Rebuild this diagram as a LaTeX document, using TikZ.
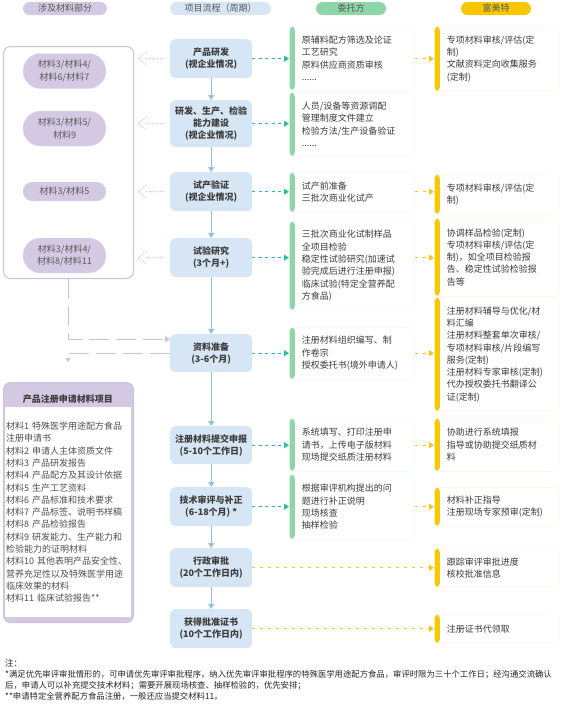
\documentclass[tikz,border=0pt]{standalone}
\usepackage{fontspec}
\setmainfont{Noto Sans CJK SC}
\usetikzlibrary{arrows.meta,shapes.misc}
\definecolor{lilac}{HTML}{D4C9E3}
\definecolor{lilacline}{HTML}{CDC1DF}
\definecolor{stepblue}{HTML}{D7E6F4}
\definecolor{mint}{HTML}{8ED5A7}
\definecolor{gold}{HTML}{F8C700}
\definecolor{tealdash}{HTML}{2DBE9E}
\definecolor{golddash}{HTML}{F7C51A}
\definecolor{flowline}{HTML}{8FC4D8}
\definecolor{ink}{HTML}{3C3C3C}
\begin{document}
\begin{tikzpicture}[x=1pt,y=-1pt,
  every node/.style={text=ink},
  body/.style={font=\fontsize{9}{12.3}\selectfont},
  pill/.style={rounded corners=6.5,minimum height=13,inner sep=0,font=\fontsize{9}{10}\selectfont,text=ink!85},
  matpill/.style={rounded rectangle,fill=lilac,draw=lilacline!60,line width=0.4,minimum width=83,inner sep=0,align=center,body,text=ink!85},
  stepbox/.style={anchor=north west,fill=stepblue,rounded corners=5,minimum width=82,inner sep=0,align=center,font=\bfseries\fontsize{9}{12.3}\selectfont},
  card/.style={anchor=north west,fill=white,draw=#1!12,line width=0.5,rounded corners=4,minimum width=125,text width=100,inner xsep=12.5,inner ysep=0,align=left,body,
    path picture={\fill[#1] (path picture bounding box.north west) rectangle ([xshift=5.5]path picture bounding box.south west);}},
  flow/.style={flowline,line width=1.2,-{Triangle[width=6pt,length=5pt]}},
  tealarrow/.style={tealdash,line width=1,dash pattern=on 3pt off 3.5pt,-{Triangle[width=6pt,length=5pt]}},
  goldarrow/.style={golddash,line width=1,dash pattern=on 3pt off 5pt,-{Triangle[width=6pt,length=5pt]}},
  lilacdash/.style={lilacline,line width=1.2,dash pattern=on 20pt off 7pt},
  fan/.style={lilacline,line width=1.5,line cap=round,dash pattern=on 0pt off 2.7pt}
]
\useasboundingbox (0,0) rectangle (561,710);

% headers
\node[pill,fill=lilac,minimum width=84] (hmat) at (65,8.5) {涉及材料部分};
\node[pill,fill=stepblue,minimum width=101] (hflow) at (220.5,8.5) {项目流程（周期）};
\node[pill,fill=mint,minimum width=70] (hclient) at (351,8.5) {委托方};
\node[pill,fill=gold,minimum width=70] (hfmt) at (496,8.5) {富美特};

% materials used
\node[anchor=north west,draw=lilacline,line width=1,fill=white,rounded corners=7,minimum width=130,minimum height=232] (matbox) at (3,46) {};
\node[matpill,minimum height=35] (m1) at (64.5,71) {材料3/材料4/\\材料6/材料7};
\node[matpill,minimum height=35] (m2) at (64.5,128.5) {材料3/材料5/\\材料9};
\node[matpill,minimum height=19] (m3) at (64.5,191.5) {材料3/材料5};
\node[matpill,minimum height=35] (m4) at (64.5,255.5) {材料3/材料4/\\材料8/材料11};

% project steps
\node[stepbox,minimum height=39] (s1) at (170,39) {产品研发\\(视企业情况)};
\node[stepbox,minimum height=47] (s2) at (170,100) {研发、生产、检验\\能力建设\\(视企业情况)};
\node[stepbox,minimum height=39] (s3) at (170,172) {试产验证\\(视企业情况)};
\node[stepbox,minimum height=39] (s4) at (170,238) {试验研究\\(3个月+)};
\node[stepbox,minimum height=38] (s5) at (170,334) {资料准备\\(3-6个月)};
\node[stepbox,minimum height=38] (s6) at (170,426) {注册材料提交申报\\(5-10个工作日)};
\node[stepbox,minimum height=39] (s7) at (170,487) {技术审评与补正\\(6-18个月) *};
\node[stepbox,minimum height=39] (s8) at (170,548) {行政审批\\(20个工作日内)};
\node[stepbox,minimum height=39] (s9) at (170,609) {获得批准证书\\(10个工作日内)};

% client tasks
\node[card=mint,minimum height=64] (g1) at (289,26) {原辅料配方筛选及论证\\工艺研究\\原料供应商资质审核\\......};
\node[card=mint,minimum height=64] (g2) at (289,92) {人员/设备等资源调配\\管理制度文件建立\\检验方法/生产设备验证\\......};
\node[card=mint,minimum height=40] (g3) at (289,172) {试产前准备\\三批次商业化试产};
\node[card=mint,minimum height=89] (g4) at (289,221) {三批次商业化试制样品\\全项目检验\\稳定性试验研究(加速试\\验完成后进行注册申报)\\临床试验(特定全营养配\\方食品)};
\node[card=mint,minimum height=52] (g5) at (289,327) {注册材料组织编写、制\\作卷宗\\授权委托书(境外申请人)};
\node[card=mint,minimum height=53] (g6) at (289,418) {系统填写、打印注册申\\请书，上传电子版材料\\现场提交纸质注册材料};
\node[card=mint,minimum height=65] (g7) at (289,474) {根据审评机构提出的问\\题进行补正说明\\现场核查\\抽样检验};

% our services
\node[card=gold,minimum height=65] (y1) at (434,26) {专项材料审核/评估(定\\制)\\文献资料定向收集服务\\(定制)};
\node[card=gold,minimum height=40] (y2) at (434,174) {专项材料审核/评估(定\\制)};
\node[card=gold,minimum height=78] (y3) at (434,218) {协调样品检验(定制)\\专项材料审核/评估(定\\制)，如全项目检验报\\告、稳定性试验检验报\\告等};
\node[card=gold,minimum height=114] (y4) at (434,297) {注册材料辅导与优化/材\\料汇编\\注册材料整套单次审核/\\专项材料审核/片段编写\\服务(定制)\\注册材料专家审核(定制)\\代办授权委托书翻译公\\证(定制)};
\node[card=gold,minimum height=53] (y5) at (434,418) {协助进行系统填报\\指导或协助提交纸质材\\料};
\node[card=gold,minimum height=39] (y6) at (434,487) {材料补正指导\\注册现场专家预审(定制)};
\node[card=gold,minimum height=39] (y7) at (434,548) {跟踪审评审批进度\\核校批准信息};
\node[card=gold,minimum height=29] (y8) at (434,614) {注册证书代领取};

% flow
\foreach \a/\b in {s1/s2,s2/s3,s3/s4,s4/s5,s5/s6,s6/s7,s7/s8,s8/s9}
  \draw[flow] (\a) -- (\b);
\foreach \s/\g in {s1/g1,s2/g2,s3/g3,s4/g4,s5/g5,s6/g6,s7/g7}
  \draw[tealarrow] (\s.east) -- (\s.east -| \g.west);
\foreach \s/\g/\y in {s1/g1/y1,s3/g3/y2,s4/g4/y3,s5/g5/y4,s6/g6/y5,s7/g7/y6}
  \draw[goldarrow] (\s.east -| \g.east) -- (\s.east -| \y.west);
\foreach \s/\y in {s8/y7,s9/y8}
  \draw[goldarrow] (\s.east) -- (\s.east -| \y.west);
\foreach \s in {s1,s2,s3,s4}{
  \draw[fan] ([xshift=-7]\s.west) -- ([xshift=-25]\s.west);
  \draw[fan] ([xshift=-24,yshift=6]\s.west) -- ([xshift=-32]\s.west) -- ([xshift=-24,yshift=-6]\s.west);
}

% to and from the documents
\draw[lilacdash,-{Triangle[width=6pt,length=5pt]}] (matbox.south) |- ([yshift=14]s5.west);
\coordinate (docin) at (68,362);
\draw[lilacdash,-{Triangle[width=5pt,length=4pt]}] (s5.west) -| (docin);

% application documents
\node[anchor=north west,fill=lilac,draw=lilacline,line width=1,rounded corners=7,minimum width=130,minimum height=240] (docs) at (3,382) {};
\node[font=\bfseries\fontsize{9}{10}\selectfont] (doctitle) at (68,399) {产品注册申请材料项目};
\node[anchor=north west,fill=white,minimum width=126,minimum height=210,text width=124,inner xsep=1,inner ysep=0,align=left,body,text=ink!90] (doclist) at (5,407) {材料1 特殊医学用途配方食品\\注册申请书\\材料2 申请人主体资质文件\\材料3 产品研发报告\\材料4 产品配方及其设计依据\\材料5 生产工艺资料\\材料6 产品标准和技术要求\\材料7 产品标签、说明书样稿\\材料8 产品检验报告\\材料9 研发能力、生产能力和\\检验能力的证明材料\\材料10 其他表明产品安全性、\\营养充足性以及特殊医学用途\\临床效果的材料\\材料11 临床试验报告**};

% notes
\node[anchor=north west,inner sep=0,align=left,font=\fontsize{8.35}{11}\selectfont,text=black!85] (notes) at (5,659) {注：\\*满足优先审评审批情形的，可申请优先审评审批程序，纳入优先审评审批程序的特殊医学用途配方食品，审评时限为三十个工作日；经沟通交流确认\\后，申请人可以补充提交技术材料；需要开展现场核查、抽样检验的，优先安排；\\**申请特定全营养配方食品注册，一般还应当提交材料11。};
\end{tikzpicture}
\end{document}
